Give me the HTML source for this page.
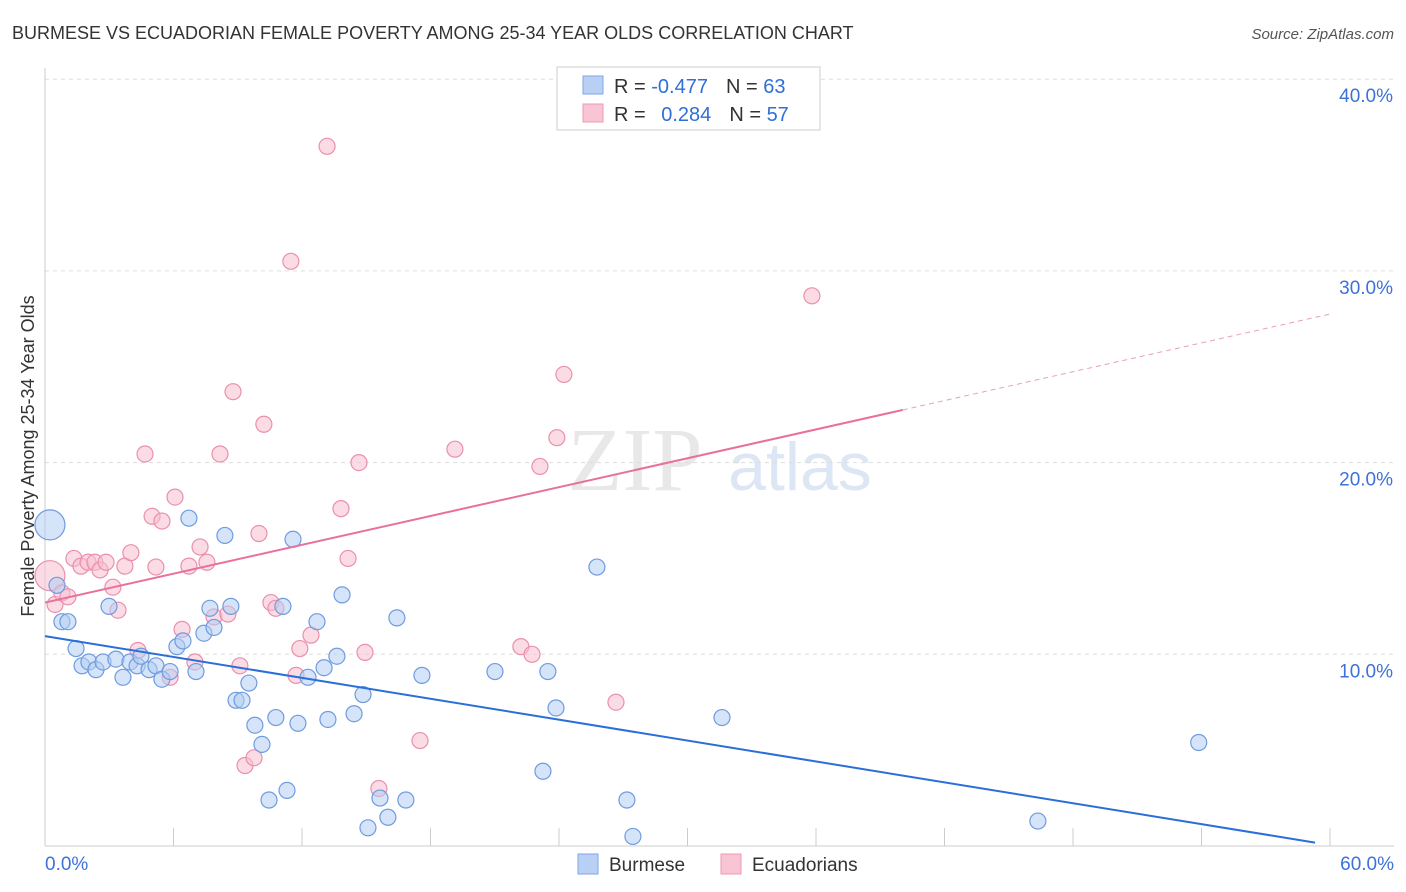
<!DOCTYPE html>
<html><head><meta charset="utf-8"><style>
body{margin:0;background:#fff;font-family:"Liberation Sans",sans-serif;}
svg{display:block}
</style></head><body>
<svg id="c" width="1406" height="892">
<text x="12" y="39" font-size="18" fill="#333">BURMESE VS ECUADORIAN FEMALE POVERTY AMONG 25-34 YEAR OLDS CORRELATION CHART</text>
<text x="1394" y="39" font-size="15" fill="#555" font-style="italic" text-anchor="end">Source: ZipAtlas.com</text>
<text x="0" y="0" transform="translate(34,456) rotate(-90)" font-size="18" fill="#333" text-anchor="middle">Female Poverty Among 25-34 Year Olds</text>
<text x="635" y="490" font-size="90" fill="#e8e8e8" font-family="Liberation Serif,serif" text-anchor="middle">ZIP</text>
<text x="800" y="490" font-size="68" fill="#dde6f4" text-anchor="middle">atlas</text>
<g id="grid"></g><g id="marks"></g><g id="lines"></g>
<g>
<rect x="557" y="67" width="263" height="63" fill="#fff" stroke="#ccc"/>
<rect x="583" y="76" width="20" height="18" fill="#b9d0f5" stroke="#7fa6e6"/>
<rect x="583" y="104" width="20" height="18" fill="#f9c4d4" stroke="#ee98b2"/>
<text x="614" y="93" font-size="20" fill="#333">R = <tspan fill="#2f6fd6">-0.477</tspan><tspan dx="18">N = </tspan><tspan fill="#2f6fd6">63</tspan></text>
<text x="614" y="121" font-size="20" fill="#333">R = <tspan fill="#2f6fd6" dx="10">0.284</tspan><tspan dx="18">N = </tspan><tspan fill="#2f6fd6">57</tspan></text>
</g>
<g>
<rect x="578" y="854" width="20" height="20" fill="#b9d0f5" stroke="#7fa6e6"/>
<text x="609" y="871" font-size="19" fill="#333">Burmese</text>
<rect x="721" y="854" width="20" height="20" fill="#f9c4d4" stroke="#ee98b2"/>
<text x="752" y="871" font-size="19" fill="#333">Ecuadorians</text>
</g>
</svg>
<script>
const xTicks=[0,6,12,18,24,30,36,42,48,54,60];
const yTicks=[10,20,30,40];
const yTickLabels=["10.0%","20.0%","30.0%","40.0%"];
const burmeseX=[0.23,0.56,0.79,1.07,1.45,1.73,2.05,2.38,2.71,2.99,3.31,3.64,3.97,4.30,4.48,4.86,5.18,5.46,5.84,6.16,6.44,6.72,7.05,7.42,7.70,7.89,8.40,8.68,8.92,9.20,9.52,9.80,10.13,10.46,10.78,11.11,11.30,11.58,11.81,12.28,12.70,13.03,13.21,13.63,13.87,14.43,14.85,15.08,15.64,16.01,16.43,16.85,17.60,21.01,23.25,23.48,23.86,25.77,27.17,27.45,31.61,46.36,53.87];
const burmeseY=[16.75,13.6,11.7,11.7,10.3,9.4,9.6,9.2,9.6,12.5,9.75,8.8,9.6,9.4,9.9,9.2,9.4,8.7,9.1,10.4,10.7,17.1,9.1,11.1,12.4,11.4,16.2,12.5,7.6,7.6,8.5,6.3,5.3,2.4,6.7,12.5,2.9,16.0,6.4,8.8,11.7,9.3,6.6,9.9,13.1,6.9,7.9,0.95,2.5,1.5,11.9,2.4,8.9,9.1,3.9,9.1,7.2,14.55,2.4,0.5,6.7,1.3,5.4];
const burmeseBig=[0];
const ecuX=[0.23,0.47,0.79,1.07,1.35,1.68,2.01,2.33,2.57,2.85,3.17,3.41,3.73,4.01,4.34,4.67,5.00,5.18,5.46,5.84,6.07,6.40,6.72,7.00,7.24,7.56,7.89,8.17,8.54,8.78,9.10,9.34,9.76,9.99,10.22,10.55,10.78,11.48,11.72,11.90,12.42,13.17,13.82,14.15,14.66,14.94,15.59,17.51,19.14,22.22,22.74,23.11,23.90,24.23,26.66,35.81,24.84];
const ecuY=[14.1,12.6,13.2,13.0,15.0,14.6,14.8,14.8,14.4,14.8,13.5,12.3,14.6,15.3,10.2,20.45,17.2,14.55,16.95,8.8,18.2,11.3,14.6,9.6,15.6,14.8,11.95,20.45,12.1,23.7,9.4,4.2,4.6,16.3,22.0,12.7,12.4,30.5,8.9,10.3,11.0,36.5,17.6,15.0,20.0,10.1,3.0,5.5,20.7,10.4,10.0,19.8,21.3,24.6,7.5,28.7,38.0];
const ecuBig=[0];
const burmeseFit=[10.95,0.05];
const ecuFit=[12.7,27.75];
const ecuSolidEnd=40.05;

const NS="http://www.w3.org/2000/svg";
const X=v=>45+v*(1285/60);
const Y=v=>846-v*19.17;
function mk(tag,attrs,parent){const e=document.createElementNS(NS,tag);for(const k in attrs)e.setAttribute(k,attrs[k]);parent.appendChild(e);return e;}
const grid=document.getElementById('grid'),marks=document.getElementById('marks'),lines=document.getElementById('lines');
yTicks.forEach((t,i)=>{
 const l=mk('line',{x1:45,x2:1394,y1:Y(t),y2:Y(t),stroke:'#ddd','stroke-dasharray':'4,4'},grid);
 
 
 const tx=mk('text',{x:1393,y:Y(t)+23,'font-size':19,fill:'#3d72d8','text-anchor':'end'},grid);
 tx.textContent=yTickLabels[i];
 
 
});
mk('line',{x1:45,x2:1394,y1:846,y2:846,stroke:'#ccc'},grid);
mk('line',{x1:45,x2:45,y1:68,y2:846,stroke:'#ccc'},grid);
xTicks.forEach(t=>{
 const l=mk('line',{x1:X(t),x2:X(t),y1:828,y2:846,stroke:'#ccc'},grid);
 
 
});
const xl0=mk('text',{x:45,y:870,'font-size':19,fill:'#3d72d8'},grid);xl0.textContent='0.0%';


const xl1=mk('text',{x:1394,y:870,'font-size':19,fill:'#3d72d8','text-anchor':'end'},grid);xl1.textContent='60.0%';


function pts(xs,ys,big,fill,stroke,name){
 xs.forEach((x,i)=>{
  const c=mk('circle',{cx:X(x),cy:Y(ys[i]),r:big.includes(i)?15:8,fill:fill,'fill-opacity':0.55,stroke:stroke,'stroke-width':1.2},marks);
  
  
 });
}
pts(ecuX,ecuY,ecuBig,'#f8bfd0','#ea8fae','ecuadorian-point');
pts(burmeseX,burmeseY,burmeseBig,'#b3cdf3','#6f9be0','burmese-point');
const bl=mk('line',{x1:X(0),y1:Y(burmeseFit[0]),x2:X(59.3),y2:Y(burmeseFit[0]+(burmeseFit[1]-burmeseFit[0])*59.3/60),stroke:'#2a6ed9','stroke-width':2},lines);


const ey=v=>ecuFit[0]+(ecuFit[1]-ecuFit[0])*v/60;
const el1=mk('line',{x1:X(0),y1:Y(ey(0)),x2:X(ecuSolidEnd),y2:Y(ey(ecuSolidEnd)),stroke:'#e8709a','stroke-width':2},lines);


const el2=mk('line',{x1:X(ecuSolidEnd),y1:Y(ey(ecuSolidEnd)),x2:X(60),y2:Y(ey(60)),stroke:'#e8a0b8','stroke-width':1,'stroke-dasharray':'5,4'},lines);


</script>
</body></html>
